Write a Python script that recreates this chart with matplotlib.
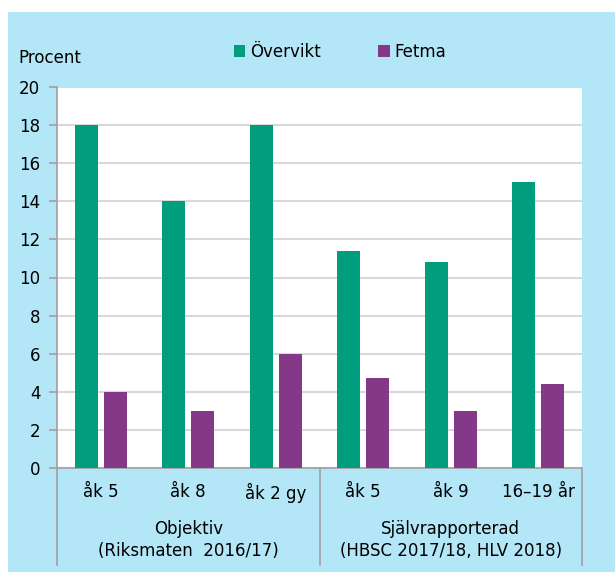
import matplotlib.pyplot as plt
from matplotlib.patches import Rectangle
import numpy as np

plt.rcParams['font.family'] = ['DejaVu Sans']

# data
categories = ["åk 5", "åk 8", "åk 2 gy", "åk 5", "åk 9", "16–19 år"]
overvikt = [18, 14, 18, 11.4, 10.8, 15]
fetma = [4, 3, 6, 4.7, 3.0, 4.4]
groups = ["Objektiv\n(Riksmaten  2016/17)", "Självrapporterad\n(HBSC 2017/18, HLV 2018)"]
group_spans = [(0, 2), (3, 5)]
yticks = [0, 2, 4, 6, 8, 10, 12, 14, 16, 18, 20]

GREEN = "#009e7c"
PURPLE = "#833888"
BG = "#b3e7f8"
AXIS_GREY = "#a0a0a0"
FS = 12

W, H = 615, 572
fig = plt.figure(figsize=(W / 100, H / 100), dpi=100)
fig.patch.set_facecolor("white")
fig.patches.append(Rectangle((8 / W, 0), 1, 1 - 12 / H, transform=fig.transFigure,
                             facecolor=BG, edgecolor="none", zorder=-10))

ax = fig.add_axes([57 / W, (H - 468) / H, (582 - 57) / W, (468 - 87) / H])
ax.set_facecolor("white")

x = np.arange(len(categories))
bw = 0.263
off = 0.166
ax.bar(x - off, overvikt, bw, color=GREEN, label="Övervikt", zorder=3)
ax.bar(x + off, fetma, bw, color=PURPLE, label="Fetma", zorder=3)

ax.set_xlim(-0.5, len(categories) - 0.5)
ax.set_ylim(0, 20)
ax.set_yticks(yticks)
ax.tick_params(axis="y", length=6, color=AXIS_GREY, labelsize=FS, pad=6, width=1.2)
ax.grid(axis="y", color="#d9d9d9", linewidth=1.5, zorder=0)
ax.set_axisbelow(True)

ax.set_xticks(x)
ax.set_xticklabels(categories, fontsize=FS)
ax.tick_params(axis="x", length=0, pad=11)

for side in ("top", "right"):
    ax.spines[side].set_visible(False)
for side in ("left", "bottom"):
    ax.spines[side].set_color(AXIS_GREY)
    ax.spines[side].set_linewidth(1.2)

# multi-level category axis: separators and group labels
trans = ax.get_xaxis_transform()
ybot = (468 - 565) / (468 - 87)
for xs in (-0.5, 2.5, 5.5):
    ax.plot([xs, xs], [0, ybot], transform=trans, color=AXIS_GREY,
            linewidth=1.2, clip_on=False)
for label, (a, b) in zip(groups, group_spans):
    ax.text((a + b) / 2, (468 - 540) / (468 - 87), label, transform=trans,
            ha="center", va="center", fontsize=FS, linespacing=1.35)

fig.text(18 / W, 1 - 58 / H, "Procent", ha="left", va="center", fontsize=FS)
fig.legend(loc="center", bbox_to_anchor=(340 / W, 1 - 52 / H), ncol=2,
           frameon=False, fontsize=FS, handlelength=0.7, handleheight=0.7,
           handletextpad=0.3, columnspacing=3.4)

fig.savefig("out.png", dpi=100, facecolor=fig.get_facecolor())
